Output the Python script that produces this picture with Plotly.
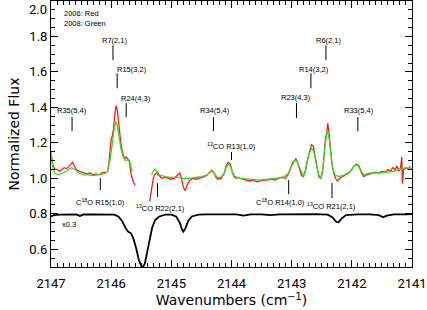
import plotly.graph_objects as go

# ---------------- data ----------------
# 2006 spectrum (red), two segments separated by telluric gap
red_x_a = [2147.00, 2146.97, 2146.94, 2146.90, 2146.86, 2146.82, 2146.78, 2146.74, 2146.70, 2146.67,
           2146.64, 2146.61, 2146.58, 2146.54, 2146.50, 2146.45, 2146.40, 2146.35, 2146.30, 2146.25,
           2146.20, 2146.16, 2146.12, 2146.09, 2146.06, 2146.04, 2146.02, 2146.00, 2145.98, 2145.96,
           2145.94, 2145.92, 2145.90, 2145.88, 2145.86, 2145.84, 2145.82, 2145.80, 2145.78, 2145.75,
           2145.72, 2145.70, 2145.68, 2145.66, 2145.63, 2145.60]
red_y_a = [1.14, 1.08, 1.05, 1.05, 1.04, 1.05, 1.06, 1.055, 1.07, 1.08,
           1.09, 1.07, 1.05, 1.04, 1.035, 1.03, 1.025, 1.03, 1.02, 1.025,
           1.02, 1.03, 1.035, 1.03, 1.04, 1.08, 1.15, 1.22, 1.24, 1.28,
           1.36, 1.41, 1.39, 1.32, 1.25, 1.20, 1.16, 1.13, 1.11, 1.12,
           1.11, 1.10, 1.05, 1.01, 0.98, 0.96]
red_x_b = [2145.36, 2145.34, 2145.32, 2145.30, 2145.28, 2145.25, 2145.22, 2145.19, 2145.15, 2145.10,
           2145.05, 2145.00, 2144.95, 2144.90, 2144.86, 2144.83, 2144.80, 2144.77, 2144.74, 2144.70,
           2144.65, 2144.60, 2144.55, 2144.50, 2144.45, 2144.40, 2144.35, 2144.32, 2144.29, 2144.25,
           2144.21, 2144.17, 2144.12, 2144.09, 2144.06, 2144.04, 2144.02, 2143.99, 2143.96, 2143.92,
           2143.88, 2143.82, 2143.76, 2143.70, 2143.64, 2143.58, 2143.52, 2143.46, 2143.40, 2143.34,
           2143.28, 2143.22, 2143.16, 2143.10, 2143.06, 2143.02, 2142.98, 2142.95, 2142.93, 2142.90,
           2142.87, 2142.84, 2142.81, 2142.78, 2142.74, 2142.70, 2142.67, 2142.64, 2142.61, 2142.58,
           2142.55, 2142.52, 2142.49, 2142.46, 2142.44, 2142.42, 2142.40, 2142.38, 2142.36, 2142.33,
           2142.30, 2142.27, 2142.24, 2142.20, 2142.15, 2142.10, 2142.05, 2142.00, 2141.96, 2141.92,
           2141.88, 2141.84, 2141.80, 2141.75, 2141.70, 2141.65, 2141.60, 2141.55, 2141.50, 2141.45,
           2141.40, 2141.36, 2141.32, 2141.28, 2141.25, 2141.22, 2141.19, 2141.17, 2141.16, 2141.14,
           2141.10, 2141.06, 2141.03]
red_y_b = [0.87, 0.92, 0.97, 1.00, 1.02, 1.03, 1.02, 1.01, 1.00, 1.005,
           1.00, 0.995, 1.00, 1.02, 1.03, 1.00, 0.95, 0.93, 0.96, 0.985,
           1.00, 0.995, 1.00, 1.005, 1.01, 1.02, 1.04, 1.045, 1.03, 1.00,
           0.995, 1.00, 1.03, 1.07, 1.09, 1.085, 1.08, 1.04, 1.01, 1.00,
           1.005, 0.995, 0.99, 0.985, 0.99, 0.98, 0.985, 0.99, 0.99, 0.995,
           0.99, 1.00, 1.005, 1.00, 1.02, 1.06, 1.09, 1.10, 1.11, 1.09,
           1.05, 1.02, 1.01, 1.03, 1.10, 1.16, 1.19, 1.18, 1.12, 1.05,
           1.01, 1.00, 1.03, 1.13, 1.22, 1.25, 1.31, 1.26, 1.18, 1.08,
           1.03, 1.00, 0.985, 1.00, 1.01, 1.02, 1.03, 1.05, 1.07, 1.08,
           1.07, 1.03, 1.01, 1.02, 1.025, 1.03, 1.035, 1.03, 1.04, 1.035,
           1.05, 1.04, 1.06, 1.05, 1.07, 1.04, 1.06, 1.12, 0.97, 1.05,
           1.06, 1.05, 1.07]

# 2008 spectrum (green)
green_x_a = [2147.00, 2146.97, 2146.94, 2146.88, 2146.80, 2146.72, 2146.66, 2146.60, 2146.54, 2146.46,
             2146.38, 2146.30, 2146.20, 2146.12, 2146.06, 2146.02, 2145.98, 2145.95, 2145.92, 2145.90,
             2145.87, 2145.84, 2145.80, 2145.76, 2145.72, 2145.69, 2145.66, 2145.64]
green_y_a = [1.15, 1.06, 1.03, 1.02, 1.03, 1.05, 1.06, 1.05, 1.03, 1.02,
             1.02, 1.015, 1.02, 1.025, 1.04, 1.10, 1.20, 1.28, 1.32, 1.30,
             1.24, 1.17, 1.12, 1.10, 1.105, 1.09, 1.05, 1.04]
green_x_b = [2145.33, 2145.30, 2145.27, 2145.24, 2145.20, 2145.10, 2145.00, 2144.90, 2144.80, 2144.70,
             2144.60, 2144.50, 2144.40, 2144.33, 2144.29, 2144.24, 2144.18, 2144.12, 2144.08, 2144.05,
             2144.02, 2143.98, 2143.94, 2143.85, 2143.70, 2143.55, 2143.40, 2143.25, 2143.12, 2143.05,
             2143.00, 2142.95, 2142.92, 2142.88, 2142.84, 2142.80, 2142.76, 2142.72, 2142.67, 2142.63,
             2142.59, 2142.55, 2142.52, 2142.48, 2142.45, 2142.41, 2142.38, 2142.35, 2142.32, 2142.28,
             2142.22, 2142.12, 2142.02, 2141.96, 2141.91, 2141.86, 2141.80, 2141.70, 2141.55, 2141.40,
             2141.30, 2141.20, 2141.10, 2141.00]
green_y_b = [1.02, 1.04, 1.05, 1.04, 1.02, 1.01, 1.005, 1.005, 1.00, 1.00,
             1.005, 1.01, 1.02, 1.045, 1.03, 1.005, 1.005, 1.03, 1.07, 1.08,
             1.07, 1.03, 1.01, 1.00, 0.995, 0.99, 0.995, 1.00, 1.01, 1.03,
             1.07, 1.10, 1.10, 1.07, 1.03, 1.01, 1.06, 1.13, 1.17, 1.15,
             1.08, 1.02, 1.00, 1.05, 1.17, 1.27, 1.23, 1.14, 1.06, 1.02,
             1.01, 1.02, 1.04, 1.07, 1.08, 1.05, 1.02, 1.03, 1.03, 1.035,
             1.04, 1.05, 1.06, 1.055]

# telluric standard (black, scaled x0.3)
tell_x = [2147.00, 2146.95, 2146.85, 2146.70, 2146.58, 2146.52, 2146.46, 2146.30, 2146.10, 2145.95,
          2145.88, 2145.82, 2145.76, 2145.72, 2145.67, 2145.63, 2145.58, 2145.54, 2145.50, 2145.47,
          2145.44, 2145.40, 2145.36, 2145.32, 2145.27, 2145.20, 2145.10, 2145.00, 2144.92, 2144.86,
          2144.82, 2144.80, 2144.77, 2144.72, 2144.66, 2144.55, 2144.40, 2144.25, 2144.05, 2143.92,
          2143.80, 2143.68, 2143.50, 2143.35, 2143.20, 2143.00, 2142.80, 2142.60, 2142.40, 2142.32,
          2142.26, 2142.22, 2142.18, 2142.10, 2141.90, 2141.70, 2141.55, 2141.48, 2141.42, 2141.30,
          2141.10, 2141.00]
tell_y = [0.785, 0.792, 0.795, 0.797, 0.796, 0.788, 0.796, 0.797, 0.797, 0.795,
          0.785, 0.76, 0.72, 0.70, 0.69, 0.66, 0.60, 0.54, 0.505, 0.50,
          0.52, 0.59, 0.66, 0.72, 0.765, 0.785, 0.795, 0.795, 0.785, 0.75,
          0.71, 0.70, 0.715, 0.76, 0.785, 0.795, 0.797, 0.798, 0.797, 0.797,
          0.79, 0.797, 0.797, 0.793, 0.797, 0.798, 0.800, 0.798, 0.795, 0.78,
          0.755, 0.752, 0.77, 0.793, 0.797, 0.797, 0.792, 0.78, 0.79, 0.797,
          0.797, 0.798]

# axis ticks
x_ticks = [2147, 2146, 2145, 2144, 2143, 2142, 2141]
y_ticks = [0.6, 0.8, 1.0, 1.2, 1.4, 1.6, 1.8, 2.0]
y_tick_text = ["0.6", "0.8", "1.0", "1.2", "1.4", "1.6", "1.8", ""]
y_top_label = "2.0"

# line identifications: label, marker x, marker y0, y1, text x, text y
line_labels = ["R35(5,4)", "R7(2,1)", "R15(3,2)", "R24(4,3)", "R34(5,4)",
               "<sup>13</sup>CO R13(1,0)", "R23(4,3)", "R14(3,2)", "R6(2,1)", "R33(5,4)",
               "C<sup>18</sup>O R15(1,0)", "<sup>13</sup>CO R22(2,1)",
               "C<sup>18</sup>O R14(1,0)", "<sup>13</sup>CO R21(2,1)"]
line_pos = [2146.65, 2145.97, 2145.90, 2145.75, 2144.30,
            2144.00, 2142.92, 2142.68, 2142.43, 2141.90,
            2146.18, 2145.23, 2143.05, 2142.33]
line_y0 = [1.266, 1.666, 1.508, 1.345, 1.266,
           1.103, 1.340, 1.508, 1.666, 1.266,
           0.934, 0.894, 0.911, 0.889]
line_y1 = [1.345, 1.750, 1.593, 1.424, 1.345,
           1.148, 1.424, 1.593, 1.750, 1.345,
           1.001, 0.973, 0.990, 0.973]
text_x = [2146.65, 2145.93, 2145.65, 2145.58, 2144.28,
          2144.00, 2142.92, 2142.63, 2142.38, 2141.88,
          2146.18, 2145.18, 2143.18, 2142.33]
text_y = [1.385, 1.780, 1.615, 1.452, 1.385,
          1.180, 1.457, 1.615, 1.780, 1.385,
          0.866, 0.832, 0.866, 0.844]

# ---------------- figure ----------------
fig = go.Figure()
fig.add_trace(go.Scatter(x=tell_x, y=tell_y, mode="lines",
                         line=dict(color="black", width=1.8), showlegend=False))
for xs, ys in [(red_x_a, red_y_a), (red_x_b, red_y_b)]:
    fig.add_trace(go.Scatter(x=xs, y=ys, mode="lines",
                             line=dict(color="#ff1a1a", width=1.3), showlegend=False))
for xs, ys in [(green_x_a, green_y_a), (green_x_b, green_y_b)]:
    fig.add_trace(go.Scatter(x=xs, y=ys, mode="lines",
                             line=dict(color="#33dd22", width=1.3), showlegend=False))

afont = dict(family="Liberation Sans", size=7.5, color="black")
for lab, lx, y0, y1, tx, ty in zip(line_labels, line_pos, line_y0, line_y1, text_x, text_y):
    fig.add_shape(type="line", x0=lx, x1=lx, y0=y0, y1=y1, xref="x", yref="y",
                  line=dict(color="black", width=1))
    fig.add_annotation(x=tx, y=ty, text=lab, showarrow=False, xref="x", yref="y",
                       font=afont, xanchor="center", yanchor="middle")

fig.add_annotation(x=2146.85, y=0.737, text="x0.3", showarrow=False, xref="x", yref="y",
                   font=afont, xanchor="left", yanchor="middle")
fig.add_annotation(x=2146.82, y=1.931, text="2006: Red", showarrow=False, xref="x", yref="y",
                   font=afont, xanchor="left", yanchor="middle")
fig.add_annotation(x=2146.82, y=1.875, text="2008: Green", showarrow=False, xref="x", yref="y",
                   font=afont, xanchor="left", yanchor="middle")

tickfont = dict(family="Roboto", size=13, color="black")
# top y tick label, kept inside the page like in the reference
fig.add_annotation(x=0, y=2.0, xref="paper", yref="y", text=y_top_label, showarrow=False,
                   xanchor="right", yanchor="top", xshift=-2, yshift=1, font=tickfont)

fig.update_xaxes(range=[2147, 2141], tickmode="array", tickvals=x_ticks,
                 showline=True, mirror="ticks", automargin=False,
                 linecolor="black", linewidth=1, ticks="inside", ticklen=7, tickcolor="black",
                 minor=dict(dtick=0.1, tick0=2141, ticks="inside", ticklen=4, tickcolor="black"),
                 showgrid=False, zeroline=False, tickfont=tickfont, ticklabelstandoff=4,
                 title=dict(text="Wavenumbers (cm<sup>−1</sup>)",
                            font=dict(family="DejaVu Sans", size=14, color="black"), standoff=5))
fig.update_yaxes(range=[0.5, 2.0], tickmode="array", tickvals=y_ticks, ticktext=y_tick_text,
                 showline=True, automargin=False,
                 mirror="ticks", linecolor="black", linewidth=1, ticks="inside", ticklen=7,
                 tickcolor="black",
                 minor=dict(dtick=0.05, tick0=0.5, ticks="inside", ticklen=4, tickcolor="black"),
                 showgrid=False, zeroline=False, tickfont=tickfont,
                 title=dict(text="Normalized Flux",
                            font=dict(family="DejaVu Sans", size=14, color="black"), standoff=6))
fig.update_layout(width=427, height=310, margin=dict(l=51, r=15, t=1, b=43, autoexpand=False),
                  plot_bgcolor="white", paper_bgcolor="white")
fig.write_html("out.html", config={"displayModeBar": False},
               post_script="document.body.style.margin='0px';document.body.style.overflow='hidden';")
